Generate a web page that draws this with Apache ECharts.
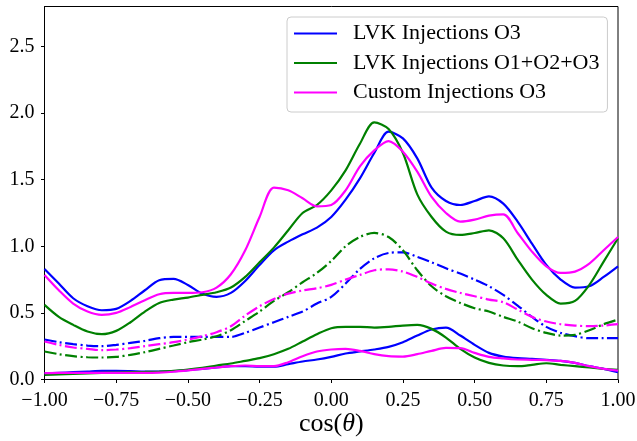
<!DOCTYPE html>
<html>
<head>
<meta charset="utf-8">
<script src="https://cdn.jsdelivr.net/npm/echarts@6/dist/echarts.min.js"></script>
<style>
  html, body { margin: 0; padding: 0; background: #fff; }
  #chart { width: 637px; height: 441px; }
</style>
</head>
<body>
<div id="chart"></div>
<script>
// cos(theta) grid shared by every curve
const xs = [-1.00,-0.95,-0.90,-0.85,-0.80,-0.75,-0.70,-0.65,-0.60,-0.55,-0.50,-0.45,-0.40,-0.35,-0.30,-0.25,-0.20,-0.15,-0.10,-0.05,
            0.00,0.05,0.10,0.15,0.20,0.25,0.30,0.35,0.40,0.45,0.50,0.55,0.60,0.65,0.70,0.75,0.80,0.85,0.90,0.95,1.00];

// LVK Injections O3 (blue): upper, middle (dash-dot), lower
const blueHigh = [0.83,0.72,0.61,0.55,0.52,0.53,0.59,0.67,0.745,0.755,0.71,0.645,0.62,0.65,0.74,0.86,0.97,1.035,1.09,1.14,
                  1.22,1.35,1.51,1.70,1.86,1.81,1.66,1.44,1.34,1.31,1.34,1.375,1.32,1.185,1.02,0.86,0.75,0.69,0.70,0.77,0.85];
const blueMid  = [0.30,0.28,0.265,0.255,0.25,0.26,0.275,0.29,0.31,0.32,0.32,0.32,0.32,0.32,0.35,0.39,0.43,0.47,0.51,0.57,
                  0.62,0.72,0.83,0.91,0.95,0.955,0.92,0.88,0.835,0.795,0.75,0.70,0.635,0.555,0.47,0.395,0.35,0.325,0.31,0.31,0.31];
const blueLow  = [0.045,0.05,0.055,0.06,0.065,0.065,0.063,0.06,0.06,0.062,0.07,0.08,0.09,0.10,0.10,0.096,0.096,0.115,0.135,0.15,
                  0.17,0.195,0.21,0.225,0.245,0.28,0.33,0.375,0.39,0.33,0.26,0.20,0.172,0.16,0.155,0.148,0.14,0.125,0.10,0.08,0.055];

// LVK Injections O1+O2+O3 (green)
const greenHigh = [0.56,0.47,0.41,0.36,0.34,0.365,0.43,0.51,0.575,0.60,0.615,0.635,0.655,0.69,0.77,0.88,0.99,1.12,1.25,1.31,
                   1.42,1.57,1.77,1.93,1.88,1.70,1.39,1.22,1.11,1.085,1.10,1.12,1.06,0.90,0.75,0.635,0.57,0.59,0.71,0.885,1.06];
const greenMid  = [0.21,0.19,0.175,0.167,0.165,0.17,0.185,0.205,0.23,0.255,0.28,0.30,0.325,0.37,0.44,0.51,0.59,0.655,0.73,0.80,
                   0.89,1.00,1.07,1.10,1.07,0.97,0.82,0.70,0.625,0.575,0.535,0.51,0.47,0.435,0.385,0.35,0.33,0.335,0.37,0.415,0.45];
const greenLow  = [0.035,0.038,0.042,0.046,0.05,0.052,0.055,0.057,0.06,0.065,0.075,0.088,0.105,0.12,0.14,0.16,0.19,0.23,0.285,0.34,
                   0.385,0.395,0.395,0.39,0.395,0.405,0.41,0.38,0.315,0.23,0.165,0.125,0.105,0.10,0.11,0.122,0.11,0.10,0.09,0.08,0.072];

// Custom Injections O3 (magenta)
const magHigh = [0.785,0.67,0.57,0.51,0.485,0.50,0.545,0.595,0.64,0.65,0.65,0.655,0.69,0.79,0.97,1.22,1.44,1.42,1.36,1.30,
                 1.31,1.42,1.60,1.72,1.79,1.71,1.56,1.37,1.25,1.185,1.20,1.23,1.24,1.10,0.96,0.85,0.80,0.81,0.87,0.97,1.07];
const magMid  = [0.285,0.26,0.24,0.23,0.22,0.225,0.235,0.25,0.265,0.28,0.30,0.325,0.355,0.40,0.48,0.55,0.605,0.645,0.668,0.685,
                 0.71,0.75,0.785,0.82,0.827,0.81,0.77,0.72,0.68,0.65,0.625,0.60,0.58,0.525,0.47,0.435,0.415,0.405,0.40,0.405,0.415];
const magLow  = [0.048,0.05,0.05,0.05,0.05,0.05,0.05,0.05,0.052,0.058,0.068,0.08,0.09,0.10,0.105,0.10,0.10,0.13,0.175,0.21,
                 0.225,0.23,0.215,0.19,0.175,0.172,0.19,0.215,0.237,0.235,0.20,0.17,0.158,0.15,0.148,0.145,0.14,0.125,0.10,0.08,0.066];

const names = ['LVK Injections O3', 'LVK Injections O1+O2+O3', 'Custom Injections O3'];
const colors = ['#0000ff', '#008000', '#ff00ff'];
const xTicks = [-1, -0.75, -0.5, -0.25, 0, 0.25, 0.5, 0.75, 1];
const yTicks = [0, 0.5, 1.0, 1.5, 2.0, 2.5];

const SERIF = '"Liberation Serif", "DejaVu Serif", serif';
const DASH_DOT = [12, 3.5, 2, 3.5];

function pairs(ys) { return xs.map((x, i) => [x, ys[i]]); }

function curve(idx, ys, dashed) {
  return {
    type: 'line',
    name: names[idx],
    data: pairs(ys),
    showSymbol: false,
    symbol: 'none',
    smooth: 0.3,
    color: colors[idx],
    lineStyle: { color: colors[idx], width: 2.2, type: dashed ? DASH_DOT : 'solid' },
    emphasis: { disabled: true }
  };
}

const groups = [
  [blueHigh, blueMid, blueLow],
  [greenHigh, greenMid, greenLow],
  [magHigh, magMid, magLow]
];
const series = [];
groups.forEach((g, i) => {
  series.push(curve(i, g[0], false));
  series.push(curve(i, g[1], true));
  series.push(curve(i, g[2], false));
});

const chart = echarts.init(document.getElementById('chart'), null, { renderer: 'canvas' });
chart.setOption({
  animation: false,
  backgroundColor: '#fff',
  grid: {
    left: 44.5, right: 19, top: 6.5, bottom: 61.5,
    outerBoundsMode: 'none',
    containLabel: false,
    show: true, borderColor: '#000', borderWidth: 1, backgroundColor: 'transparent'
  },
  legend: {
    data: names,
    orient: 'vertical',
    left: 287,
    top: 17,
    padding: [5.5, 8, 8.5, 7],
    itemWidth: 43,
    itemHeight: 2.2,
    itemGap: 7.5,
    icon: 'rect',
    selectedMode: false,
    textStyle: { fontFamily: SERIF, fontSize: 22, color: '#000', lineHeight: 21, padding: [0, 0, 0, 11] },
    backgroundColor: 'rgba(255,255,255,0.8)',
    borderColor: '#cccccc',
    borderWidth: 1,
    borderRadius: 4
  },
  xAxis: {
    type: 'value',
    min: -1,
    max: 1,
    interval: 0.25,
    name: 'cos({i|θ})',
    nameLocation: 'middle',
    nameGap: 32,
    nameMoveOverlap: false,
    nameTextStyle: {
      fontFamily: SERIF, fontSize: 26, color: '#000',
      rich: { i: { fontFamily: SERIF, fontSize: 26, fontStyle: 'italic', color: '#000' } }
    },
    axisLine: { show: true, onZero: false, lineStyle: { color: '#000', width: 1 } },
    axisTick: { show: true, length: 3.5, customValues: xTicks, lineStyle: { color: '#000', width: 1 } },
    axisLabel: {
      customValues: xTicks,
      margin: 11,
      fontFamily: SERIF, fontSize: 20, color: '#000',
      formatter: v => v.toFixed(2).replace('-', '\u2212')
    },
    splitLine: { show: false }
  },
  yAxis: {
    type: 'value',
    min: 0,
    max: 2.8,
    interval: 0.5,
    axisLine: { show: true, onZero: false, lineStyle: { color: '#000', width: 1 } },
    axisTick: { show: true, length: 3.5, customValues: yTicks, lineStyle: { color: '#000', width: 1 } },
    axisLabel: {
      customValues: yTicks,
      margin: 10,
      fontFamily: SERIF, fontSize: 20, color: '#000',
      formatter: v => (Math.abs(v * 2 - Math.round(v * 2)) < 1e-6 ? v.toFixed(1) : '')
    },
    splitLine: { show: false }
  },
  series: series
});
</script>
</body>
</html>
